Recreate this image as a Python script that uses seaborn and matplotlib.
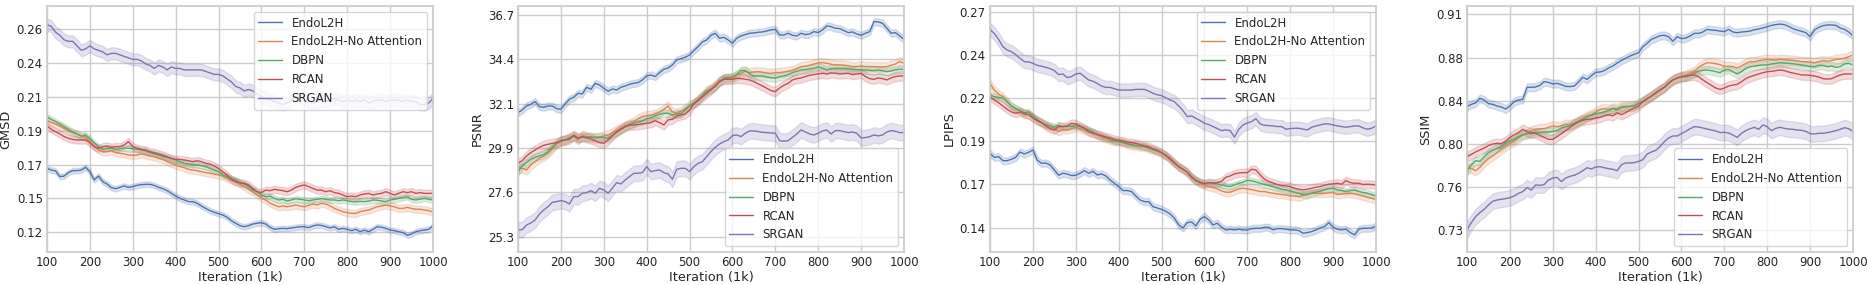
import numpy as np
import pandas as pd
import matplotlib
matplotlib.use("Agg")
import matplotlib.pyplot as plt
import seaborn as sns

sns.set_theme(style="whitegrid", palette="deep", font_scale=0.77)

models = ["EndoL2H", "EndoL2H-No Attention", "DBPN", "RCAN", "SRGAN"]
iterations = np.arange(100, 1001, 10)

# ---------------- GMSD ----------------
gmsd_endol2h = [
    .1655, .1644, .1638, .1600, .1604, .1627, .1640, .1640, .1644, .1662,
    .1633, .1578, .1604, .1567, .1551, .1527, .1520, .1529, .1538, .1529,
    .1534, .1542, .1547, .1549, .1549, .1542, .1529, .1520, .1507, .1489,
    .1471, .1456, .1445, .1434, .1434, .1423, .1405, .1389, .1374, .1363,
    .1354, .1345, .1330, .1307, .1290, .1274, .1267, .1274, .1285, .1290,
    .1294, .1285, .1263, .1250, .1254, .1256, .1254, .1259, .1263, .1267,
    .1267, .1261, .1272, .1279, .1276, .1267, .1259, .1267, .1250, .1256,
    .1250, .1241, .1250, .1234, .1245, .1234, .1250, .1267, .1263, .1256,
    .1245, .1241, .1234, .1228, .1210, .1219, .1234, .1241, .1245, .1250,
    .1272]
gmsd_noatt = [
    .1972, .1959, .1950, .1937, .1921, .1906, .1893, .1884, .1870, .1862,
    .1833, .1800, .1777, .1766, .1766, .1773, .1760, .1755, .1751, .1744,
    .1742, .1744, .1751, .1744, .1737, .1733, .1722, .1715, .1700, .1689,
    .1678, .1667, .1660, .1649, .1644, .1640, .1633, .1627, .1622, .1618,
    .1611, .1604, .1589, .1578, .1567, .1551, .1534, .1516, .1500, .1478,
    .1456, .1445, .1423, .1412, .1400, .1405, .1400, .1405, .1412, .1405,
    .1400, .1409, .1418, .1412, .1423, .1418, .1405, .1389, .1378, .1367,
    .1361, .1356, .1356, .1367, .1374, .1378, .1389, .1400, .1405, .1412,
    .1405, .1400, .1389, .1389, .1396, .1389, .1383, .1383, .1378, .1374,
    .1365]
gmsd_dbpn = [
    .1999, .1981, .1966, .1950, .1933, .1915, .1897, .1884, .1870, .1877,
    .1855, .1826, .1800, .1782, .1789, .1789, .1782, .1786, .1791, .1789,
    .1786, .1782, .1777, .1773, .1760, .1751, .1744, .1733, .1729, .1720,
    .1711, .1700, .1689, .1684, .1680, .1678, .1673, .1667, .1655, .1644,
    .1633, .1611, .1600, .1589, .1578, .1560, .1551, .1534, .1511, .1500,
    .1478, .1467, .1471, .1456, .1445, .1449, .1438, .1445, .1454, .1449,
    .1445, .1440, .1445, .1449, .1454, .1449, .1445, .1445, .1440, .1445,
    .1440, .1434, .1432, .1436, .1434, .1438, .1445, .1443, .1438, .1434,
    .1445, .1449, .1456, .1460, .1467, .1449, .1445, .1451, .1456, .1449,
    .1445]
gmsd_rcan = [
    .1937, .1915, .1899, .1884, .1866, .1855, .1848, .1844, .1844, .1844,
    .1826, .1800, .1789, .1800, .1804, .1795, .1800, .1800, .1811, .1833,
    .1800, .1789, .1782, .1777, .1766, .1760, .1751, .1744, .1733, .1722,
    .1715, .1715, .1711, .1706, .1700, .1706, .1700, .1689, .1684, .1671,
    .1655, .1633, .1611, .1582, .1567, .1560, .1556, .1545, .1522, .1500,
    .1494, .1511, .1507, .1516, .1511, .1507, .1500, .1511, .1529, .1538,
    .1545, .1534, .1522, .1511, .1511, .1500, .1507, .1494, .1489, .1478,
    .1467, .1471, .1467, .1478, .1485, .1489, .1478, .1485, .1489, .1500,
    .1489, .1478, .1489, .1500, .1494, .1500, .1489, .1494, .1489, .1489,
    .1489]
gmsd_srgan = [
    .261, .260, .256, .254, .251, .250, .250, .247, .244, .245,
    .247, .245, .244, .243, .241, .242, .242, .241, .240, .239,
    .238, .238, .237, .235, .234, .232, .234, .233, .231, .233,
    .232, .232, .231, .231, .231, .231, .231, .230, .229, .228,
    .228, .227, .225, .223, .220, .219, .217, .218, .217, .215,
    .213, .212, .211, .210, .209, .208, .209, .211, .213, .213,
    .212, .210, .209, .210, .211, .210, .211, .212, .211, .210,
    .211, .210, .211, .210, .211, .209, .210, .211, .211, .210,
    .211, .211, .211, .210, .211, .210, .210, .208, .208, .209,
    .212]
gmsd_spread = [0.0018, 0.0024, 0.0019, 0.0024, 0.0040]
gmsd_ticks = ["0.12", "0.15", "0.17", "0.19", "0.21", "0.24", "0.26"]

# ---------------- PSNR ----------------
psnr_endol2h = [
    31.678, 31.815, 32.020, 32.106, 32.243, 31.986, 31.952, 32.020, 32.020, 31.883,
    31.849, 32.123, 32.363, 32.466, 32.672, 32.638, 32.981, 32.878, 33.186, 33.100,
    32.929, 32.775, 32.895, 32.843, 32.981, 33.049, 33.135, 33.186, 33.221, 33.358,
    33.563, 33.615, 33.529, 33.735, 33.906, 33.975, 34.129, 34.386, 34.455, 34.523,
    34.643, 34.866, 35.072, 35.312, 35.415, 35.655, 35.758, 35.501, 35.552, 35.415,
    35.243, 35.501, 35.620, 35.689, 35.758, 35.775, 35.809, 35.826, 35.878, 35.929,
    35.964, 35.672, 35.672, 35.758, 35.655, 35.620, 35.758, 35.689, 35.723, 35.843,
    35.792, 35.929, 36.135, 36.100, 36.015, 35.998, 35.895, 35.792, 35.826, 35.723,
    35.655, 35.758, 35.843, 36.358, 36.341, 36.272, 36.015, 35.758, 35.792, 35.620,
    35.449]
psnr_noatt = [
    28.815, 28.815, 28.729, 28.986, 29.158, 29.329, 29.449, 29.586, 29.809, 30.066,
    30.203, 30.272, 30.409, 30.478, 30.272, 30.512, 30.443, 30.409, 30.375, 30.409,
    30.478, 30.529, 30.649, 30.752, 30.889, 31.009, 31.095, 31.198, 31.369, 31.472,
    31.523, 31.540, 31.609, 31.695, 31.849, 32.020, 31.712, 31.643, 31.746, 31.883,
    32.055, 32.158, 32.363, 32.552, 32.809, 32.912, 33.083, 33.306, 33.392, 33.443,
    33.443, 33.597, 33.700, 33.803, 33.735, 33.769, 33.786, 33.752, 33.718, 33.700,
    33.735, 33.735, 33.769, 33.803, 33.838, 33.940, 34.043, 34.060, 34.112, 34.180,
    34.232, 34.249, 34.215, 34.163, 34.129, 34.129, 34.112, 34.078, 34.026, 34.043,
    34.078, 34.043, 34.043, 34.043, 34.026, 34.026, 34.043, 34.112, 34.180, 34.300,
    34.215]
psnr_dbpn = [
    28.643, 28.935, 29.106, 29.278, 29.381, 29.449, 29.518, 29.672, 29.895, 30.100,
    30.255, 30.289, 30.375, 30.443, 30.358, 30.409, 30.409, 30.426, 30.409, 30.409,
    30.409, 30.358, 30.529, 30.666, 30.821, 30.958, 31.061, 31.129, 31.198, 31.249,
    31.369, 31.420, 31.523, 31.592, 31.643, 31.643, 31.558, 31.609, 31.626, 31.815,
    32.020, 32.158, 32.329, 32.552, 32.775, 32.878, 33.015, 33.272, 33.460, 33.495,
    33.495, 33.649, 33.838, 33.838, 33.666, 33.563, 33.563, 33.563, 33.512, 33.478,
    33.443, 33.529, 33.563, 33.632, 33.735, 33.803, 33.872, 33.889, 33.923, 33.958,
    34.026, 33.958, 33.872, 33.940, 33.958, 33.958, 33.958, 33.940, 33.906, 33.889,
    33.872, 33.872, 33.855, 33.838, 33.872, 33.838, 33.786, 33.820, 33.872, 33.906,
    33.906]
psnr_rcan = [
    29.072, 29.209, 29.449, 29.621, 29.758, 29.895, 29.998, 30.049, 30.100, 30.135,
    30.220, 30.272, 30.306, 30.512, 30.375, 30.443, 30.375, 30.323, 30.238, 30.135,
    30.100, 30.272, 30.478, 30.683, 30.821, 30.958, 31.026, 31.043, 31.061, 31.095,
    31.129, 31.163, 31.266, 31.163, 31.043, 31.301, 31.335, 31.506, 31.558, 31.609,
    31.815, 32.123, 32.295, 32.483, 32.672, 32.843, 33.049, 33.272, 33.392, 33.392,
    33.392, 33.443, 33.426, 33.392, 33.358, 33.272, 33.152, 33.049, 32.929, 32.809,
    32.758, 32.946, 33.083, 33.186, 33.358, 33.426, 33.460, 33.529, 33.597, 33.632,
    33.666, 33.700, 33.666, 33.718, 33.700, 33.666, 33.683, 33.700, 33.632, 33.666,
    33.700, 33.529, 33.426, 33.392, 33.460, 33.426, 33.358, 33.460, 33.529, 33.563,
    33.563]
psnr_srgan = [
    25.643, 25.660, 25.900, 26.003, 26.158, 26.466, 26.672, 26.843, 27.066, 27.100,
    27.152, 27.100, 26.980, 27.358, 27.358, 27.529, 27.563, 27.666, 27.529, 27.786,
    27.700, 27.529, 27.786, 28.078, 28.009, 28.215, 28.386, 28.558, 28.558, 28.592,
    28.900, 28.643, 28.695, 28.729, 28.592, 28.523, 28.249, 28.763, 28.815, 28.815,
    28.643, 28.900, 29.072, 29.158, 29.415, 29.672, 29.895, 30.066, 30.186, 30.272,
    30.495, 30.529, 30.443, 30.615, 30.735, 30.735, 30.700, 30.666, 30.649, 30.632,
    30.615, 30.238, 30.203, 30.238, 30.409, 30.580, 30.787, 30.683, 30.580, 30.529,
    30.615, 30.735, 30.787, 30.580, 30.752, 30.752, 30.700, 30.649, 30.683, 30.615,
    30.375, 30.392, 30.443, 30.529, 30.478, 30.529, 30.683, 30.752, 30.718, 30.649,
    30.649]
psnr_spread = [0.18, 0.24, 0.20, 0.24, 0.40]
psnr_ticks = ["25.3", "27.6", "29.9", "32.1", "34.4", "36.7"]

# ---------------- LPIPS ----------------
lpips_endol2h = [
    .1847, .1823, .1827, .1803, .1803, .1811, .1823, .1855, .1843, .1853,
    .1867, .1807, .1787, .1789, .1777, .1747, .1715, .1727, .1723, .1713,
    .1715, .1727, .1743, .1727, .1739, .1717, .1723, .1711, .1687, .1667,
    .1647, .1623, .1623, .1617, .1590, .1566, .1556, .1556, .1526, .1518,
    .1510, .1498, .1482, .1456, .1416, .1398, .1430, .1434, .1410, .1450,
    .1466, .1446, .1416, .1426, .1402, .1386, .1390, .1386, .1390, .1386,
    .1386, .1394, .1396, .1396, .1402, .1402, .1386, .1394, .1394, .1390,
    .1386, .1386, .1382, .1366, .1370, .1376, .1386, .1398, .1406, .1430,
    .1402, .1390, .1386, .1390, .1370, .1356, .1390, .1396, .1396, .1398,
    .1410]
lpips_noatt = [
    .2268, .2228, .2204, .2188, .2158, .2132, .2114, .2104, .2088, .2080,
    .2064, .2044, .2032, .2020, .2008, .1998, .1978, .1992, .1988, .1996,
    .2004, .1996, .1988, .1980, .1972, .1958, .1944, .1936, .1927, .1919,
    .1917, .1911, .1901, .1895, .1891, .1887, .1887, .1875, .1867, .1859,
    .1847, .1831, .1807, .1787, .1767, .1751, .1731, .1703, .1683, .1667,
    .1657, .1647, .1641, .1633, .1621, .1613, .1613, .1623, .1633, .1637,
    .1633, .1629, .1623, .1617, .1617, .1611, .1607, .1603, .1599, .1597,
    .1590, .1590, .1586, .1594, .1599, .1607, .1607, .1607, .1607, .1609,
    .1611, .1599, .1603, .1607, .1607, .1603, .1597, .1590, .1582, .1576,
    .1570]
lpips_dbpn = [
    .2198, .2188, .2184, .2180, .2158, .2132, .2118, .2104, .2092, .2096,
    .2072, .2052, .2032, .2020, .2012, .2004, .2016, .2008, .2008, .2010,
    .2012, .2008, .1998, .1990, .1976, .1962, .1952, .1942, .1931, .1921,
    .1917, .1913, .1905, .1899, .1895, .1891, .1887, .1879, .1871, .1861,
    .1851, .1837, .1813, .1787, .1767, .1751, .1735, .1707, .1687, .1675,
    .1667, .1671, .1669, .1663, .1657, .1651, .1647, .1657, .1667, .1673,
    .1685, .1681, .1675, .1667, .1659, .1653, .1647, .1639, .1631, .1627,
    .1619, .1613, .1607, .1599, .1599, .1607, .1613, .1619, .1627, .1635,
    .1637, .1627, .1623, .1617, .1623, .1627, .1617, .1611, .1607, .1599,
    .1590]
lpips_rcan = [
    .2188, .2168, .2152, .2132, .2112, .2096, .2088, .2096, .2084, .2080,
    .2060, .2044, .2032, .2012, .1996, .1988, .2008, .2008, .2012, .2028,
    .2024, .2012, .1999, .1976, .1968, .1960, .1954, .1946, .1940, .1931,
    .1925, .1921, .1913, .1911, .1907, .1899, .1893, .1887, .1875, .1867,
    .1851, .1835, .1817, .1791, .1767, .1751, .1735, .1703, .1683, .1671,
    .1663, .1671, .1667, .1671, .1679, .1703, .1711, .1723, .1729, .1731,
    .1731, .1751, .1747, .1717, .1691, .1677, .1669, .1659, .1653, .1651,
    .1647, .1637, .1631, .1627, .1631, .1637, .1643, .1647, .1655, .1661,
    .1663, .1667, .1661, .1683, .1671, .1667, .1667, .1659, .1661, .1659,
    .1657]
lpips_srgan = [
    .2593, .2569, .2533, .2489, .2469, .2459, .2441, .2419, .2399, .2397,
    .2389, .2377, .2371, .2365, .2357, .2345, .2321, .2325, .2303, .2309,
    .2325, .2329, .2309, .2289, .2281, .2268, .2252, .2244, .2244, .2236,
    .2228, .2228, .2228, .2228, .2232, .2232, .2232, .2222, .2208, .2200,
    .2194, .2182, .2168, .2158, .2132, .2104, .2068, .2072, .2058, .2044,
    .2028, .2020, .2008, .1996, .1984, .1988, .1984, .1944, .1992, .2018,
    .2030, .2038, .2056, .2024, .2016, .2014, .2012, .2008, .2008, .1992,
    .1996, .1998, .1998, .1992, .1988, .2004, .2012, .2018, .2024, .2024,
    .2018, .2012, .2008, .2004, .2008, .2012, .2012, .2000, .1992, .1998,
    .2012]
lpips_spread = [0.0021, 0.0024, 0.0019, 0.0024, 0.0040]
lpips_ticks = ["0.14", "0.17", "0.19", "0.22", "0.24", "0.27"]

# ---------------- SSIM ----------------
ssim_endol2h = [
    .8333, .8353, .8365, .8405, .8391, .8359, .8353, .8338, .8330, .8312,
    .8338, .8376, .8391, .8396, .8501, .8501, .8504, .8518, .8550, .8544,
    .8530, .8536, .8524, .8509, .8507, .8512, .8547, .8588, .8570, .8602,
    .8631, .8634, .8646, .8669, .8686, .8712, .8735, .8753, .8773, .8788,
    .8802, .8854, .8883, .8918, .8933, .8950, .8953, .8941, .8901, .8941,
    .8924, .8930, .8947, .8970, .8970, .8982, .9005, .8999, .8996, .8990,
    .8985, .9005, .8982, .8976, .8982, .8985, .8990, .9002, .9008, .9017,
    .9028, .9040, .9046, .9051, .9046, .9031, .9011, .8999, .8988, .8976,
    .8941, .8999, .9022, .9037, .9043, .9043, .9040, .9017, .9005, .8982,
    .8947]
ssim_noatt = [
    .7797, .7797, .7776, .7805, .7846, .7881, .7904, .7933, .7965, .7991,
    .8014, .8031, .8060, .8086, .8095, .8121, .8133, .8141, .8141, .8153,
    .8165, .8159, .8165, .8179, .8176, .8188, .8211, .8228, .8249, .8263,
    .8286, .8309, .8315, .8309, .8318, .8318, .8333, .8338, .8336, .8338,
    .8362, .8379, .8402, .8425, .8449, .8478, .8501, .8536, .8565, .8582,
    .8596, .8605, .8622, .8637, .8675, .8698, .8715, .8712, .8706, .8698,
    .8683, .8683, .8680, .8669, .8686, .8709, .8724, .8724, .8733, .8738,
    .8744, .8741, .8738, .8744, .8741, .8738, .8735, .8730, .8724, .8724,
    .8721, .8715, .8724, .8733, .8727, .8733, .8744, .8747, .8753, .8767,
    .8782]
ssim_dbpn = [
    .7776, .7826, .7863, .7857, .7897, .7933, .7953, .7970, .7985, .8014,
    .8034, .8049, .8072, .8089, .8101, .8095, .8112, .8107, .8115, .8112,
    .8118, .8124, .8147, .8159, .8167, .8188, .8205, .8223, .8243, .8257,
    .8272, .8278, .8286, .8298, .8315, .8304, .8324, .8330, .8336, .8341,
    .8359, .8379, .8402, .8425, .8449, .8478, .8501, .8536, .8565, .8582,
    .8593, .8591, .8605, .8622, .8643, .8649, .8651, .8646, .8637, .8628,
    .8651, .8657, .8637, .8617, .8637, .8666, .8680, .8686, .8692, .8695,
    .8695, .8704, .8709, .8715, .8712, .8709, .8706, .8701, .8695, .8689,
    .8683, .8680, .8692, .8692, .8680, .8686, .8675, .8680, .8704, .8709,
    .8695]
ssim_rcan = [
    .7898, .7918, .7939, .7956, .7973, .7994, .8008, .8014, .8011, .8031,
    .8066, .8089, .8107, .8136, .8115, .8107, .8101, .8083, .8066, .8049,
    .8049, .8072, .8098, .8124, .8153, .8179, .8199, .8214, .8223, .8225,
    .8234, .8240, .8254, .8263, .8252, .8280, .8263, .8280, .8304, .8321,
    .8338, .8376, .8402, .8425, .8454, .8478, .8501, .8536, .8565, .8582,
    .8593, .8599, .8605, .8608, .8593, .8565, .8541, .8518, .8495, .8483,
    .8495, .8512, .8521, .8527, .8550, .8576, .8593, .8605, .8617, .8628,
    .8637, .8640, .8646, .8651, .8646, .8634, .8625, .8617, .8608, .8608,
    .8605, .8599, .8591, .8576, .8573, .8576, .8593, .8608, .8617, .8617,
    .8617]
ssim_srgan = [
    .7260, .7324, .7376, .7411, .7440, .7478, .7510, .7521, .7527, .7533,
    .7541, .7556, .7579, .7594, .7628, .7608, .7652, .7649, .7655, .7695,
    .7712, .7718, .7681, .7712, .7727, .7736, .7753, .7776, .7802, .7791,
    .7808, .7811, .7802, .7794, .7788, .7776, .7828, .7843, .7843, .7846,
    .7857, .7872, .7921, .7939, .7953, .7985, .8028, .8060, .8078, .8078,
    .8098, .8118, .8141, .8159, .8156, .8147, .8138, .8130, .8121, .8107,
    .8110, .8104, .8086, .8066, .8101, .8124, .8141, .8153, .8136, .8173,
    .8159, .8124, .8144, .8153, .8144, .8138, .8136, .8130, .8127, .8118,
    .8098, .8095, .8101, .8101, .8107, .8115, .8124, .8136, .8150, .8141,
    .8115]
ssim_spread = [0.0034, 0.0042, 0.0036, 0.0042, 0.0068]
ssim_ticks = ["0.73", "0.76", "0.80", "0.84", "0.88", "0.91"]


def long_frame(metric, series, spreads):
    rows = []
    for name, values, s in zip(models, series, spreads):
        for it, v in zip(iterations, values):
            for val in (v - s, v, v + s):
                rows.append((it, name, val))
    return pd.DataFrame(rows, columns=["iteration", "model", metric])


panels = [
    ("GMSD", [gmsd_endol2h, gmsd_noatt, gmsd_dbpn, gmsd_rcan, gmsd_srgan],
     gmsd_spread, gmsd_ticks, (0.123, 0.258), (0.1099, 0.2735), "upper right", 47),
    ("PSNR", [psnr_endol2h, psnr_noatt, psnr_dbpn, psnr_rcan, psnr_srgan],
     psnr_spread, psnr_ticks, (25.3, 36.7), (24.51, 37.16), "lower right", 518),
    ("LPIPS", [lpips_endol2h, lpips_noatt, lpips_dbpn, lpips_rcan, lpips_srgan],
     lpips_spread, lpips_ticks, (0.14, 0.27), (0.1253, 0.2734), "upper right", 990),
    ("SSIM", [ssim_endol2h, ssim_noatt, ssim_dbpn, ssim_rcan, ssim_srgan],
     ssim_spread, ssim_ticks, (0.726, 0.9135), (0.7069, 0.9208), "lower right", 1467),
]

W, H = 1867, 285
fig = plt.figure(figsize=(W / 100, H / 100), dpi=100)
palette = sns.color_palette("deep", 5)

for metric, series, spreads, ticks, tick_range, ylim, loc, left in panels:
    ax = fig.add_axes([left / W, 33 / H, 386 / W, 246 / H])
    df = long_frame(metric, series, spreads)
    sns.lineplot(data=df, x="iteration", y=metric, hue="model",
                 hue_order=models, palette=palette, errorbar=("pi", 100),
                 linewidth=1.0, ax=ax)
    ax.set_xlim(100, 1000)
    ax.set_xticks(range(100, 1001, 100))
    ax.set_ylim(*ylim)
    ax.set_yticks(np.linspace(tick_range[0], tick_range[1], len(ticks)))
    ax.set_yticklabels(ticks)
    ax.tick_params(axis="both", length=0, pad=3)
    ax.set_xlabel("Iteration (1k)", labelpad=1)
    ax.set_ylabel(metric, labelpad=3)
    sns.move_legend(ax, loc, title=None, frameon=True)

fig.savefig("out.png", dpi=100)
